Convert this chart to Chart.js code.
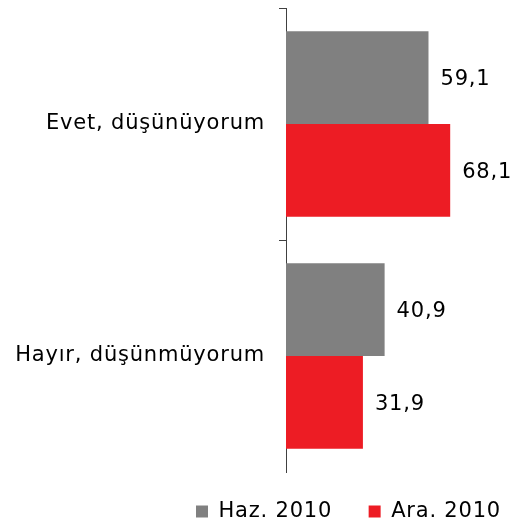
<!DOCTYPE html>
<html>
<head>
<meta charset="utf-8">
<script src="https://cdn.jsdelivr.net/npm/chart.js@4/dist/chart.umd.min.js"></script>
<style>
  html, body { margin: 0; padding: 0; background: #fff; }
  #wrap { width: 511px; height: 523px; }
</style>
</head>
<body>
<div id="wrap"><canvas id="chart"></canvas></div>
<script>
var categories = ['Evet, düşünüyorum', 'Hayır, düşünmüyorum'];
var seriesNames = ['Haz. 2010', 'Ara. 2010'];
var haz2010 = [59.1, 40.9];
var ara2010 = [68.1, 31.9];
var seriesColors = ['#808080', '#ED1C24'];

// the original font is a bit wider than DejaVu, so space the letters a little
var spacing = {
  id: 'spacing',
  beforeUpdate: function (chart) { chart.ctx.letterSpacing = '0.8px'; },
  beforeDraw: function (chart) { chart.ctx.letterSpacing = '0.8px'; },
  afterLayout: function (chart) {
    // push the legend row to the right edge like the original
    chart.legend.left += 27;
    chart.legend.right += 27;
  }
};

// draws the value next to each bar end, Turkish decimal comma
var valueLabels = {
  id: 'valueLabels',
  afterDatasetsDraw: function (chart) {
    var ctx = chart.ctx;
    ctx.save();
    ctx.font = '21px "DejaVu Sans"';
    ctx.fillStyle = '#000';
    ctx.textBaseline = 'middle';
    ctx.textAlign = 'left';
    chart.data.datasets.forEach(function (ds, i) {
      chart.getDatasetMeta(i).data.forEach(function (bar, j) {
        var txt = ds.data[j].toFixed(1).replace('.', ',');
        ctx.fillText(txt, bar.x + 12, bar.y + 2);
      });
    });
    ctx.restore();
  }
};

var ctx = document.getElementById('chart').getContext('2d');
var chart = new Chart(ctx, {
  type: 'bar',
  data: {
    labels: categories,
    datasets: [
      { label: seriesNames[0], data: haz2010, backgroundColor: seriesColors[0] },
      { label: seriesNames[1], data: ara2010, backgroundColor: seriesColors[1] }
    ]
  },
  options: {
    indexAxis: 'y',
    responsive: true,
    maintainAspectRatio: false,
    animation: false,
    layout: { padding: { top: 8, right: 8, bottom: -9, left: 0 } },
    datasets: {
      bar: { categoryPercentage: 0.8, barPercentage: 1.0 }
    },
    scales: {
      x: {
        display: false,
        min: 0,
        max: 90
      },
      y: {
        border: { display: true, color: '#404040', width: 1 },
        grid: {
          drawOnChartArea: false,
          offset: true,
          tickLength: 7,
          color: function (c) { return c.type === 'tick' ? '#404040' : 'rgba(0,0,0,0)'; }
        },
        ticks: {
          color: '#000',
          padding: 14,
          font: { family: 'DejaVu Sans', size: 21 }
        },
        afterFit: function (scale) {
          scale.width = 286;
          scale.paddingTop = 0;
          scale.paddingBottom = 0;
        }
      }
    },
    plugins: {
      legend: {
        position: 'bottom',
        align: 'end',
        labels: {
          boxWidth: 12,
          boxHeight: 12,
          padding: 29,
          color: '#000',
          font: { family: 'DejaVu Sans', size: 21 },
          generateLabels: function (chart) {
            var items = Chart.defaults.plugins.legend.labels.generateLabels(chart);
            items.forEach(function (it, k) {
              it.lineWidth = 0;
              if (k < items.length - 1) it.text = it.text + ' ';
            });
            return items;
          }
        }
      },
      tooltip: { enabled: false }
    }
  },
  plugins: [spacing, valueLabels]
});
</script>
</body>
</html>
